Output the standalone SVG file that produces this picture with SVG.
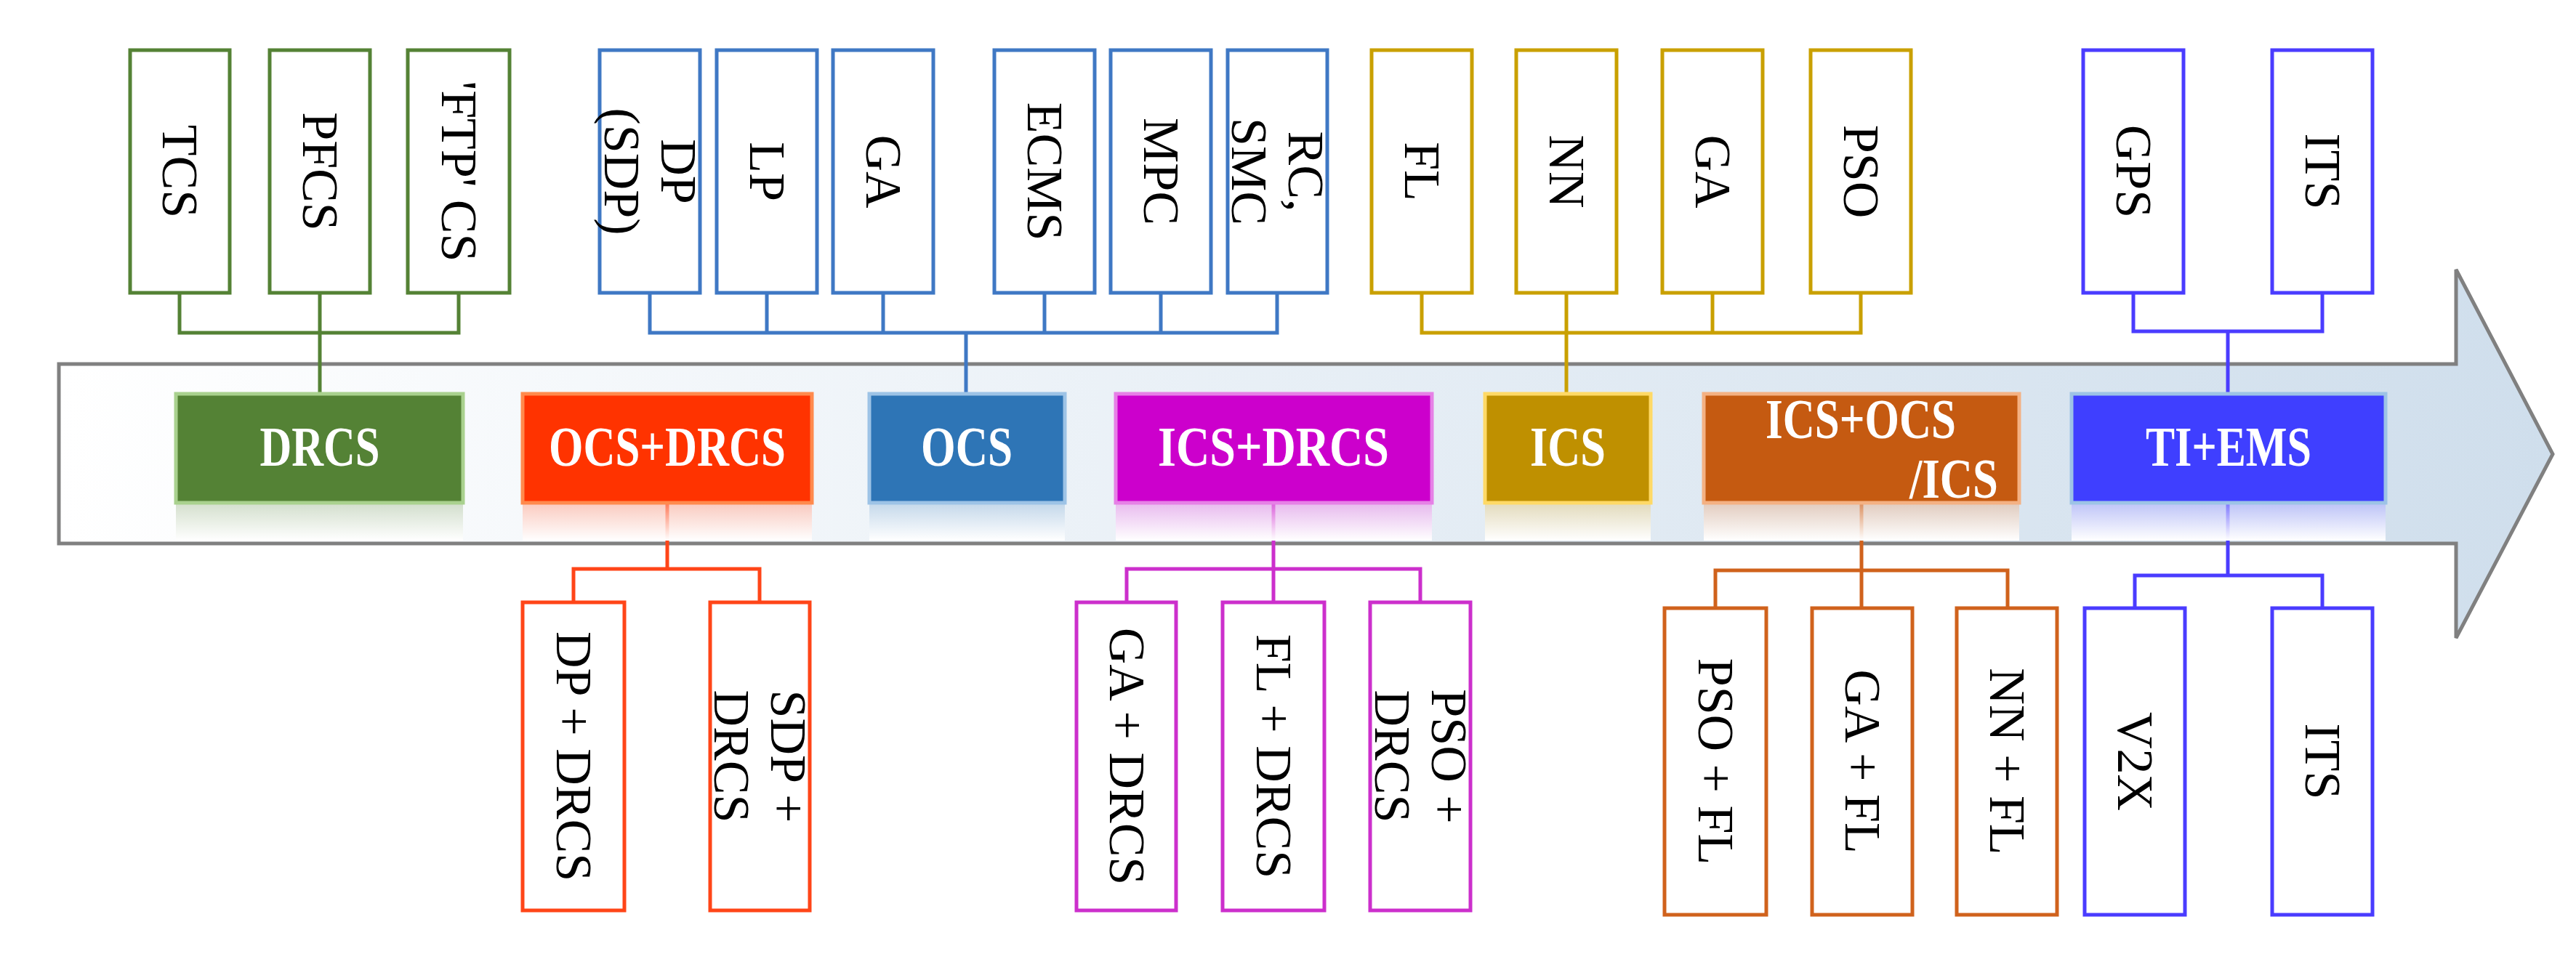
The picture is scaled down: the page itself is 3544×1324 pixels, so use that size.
<svg xmlns="http://www.w3.org/2000/svg" width="3544" height="1324" viewBox="0 0 3544 1324">
<style>
.b{fill:#fff;stroke-width:5}
.t{font-family:"Liberation Serif",serif;font-size:70px;fill:#000;text-anchor:middle;dominant-baseline:central}
.l{font-family:"Liberation Serif",serif;font-weight:bold;font-size:78px;fill:#fff;text-anchor:middle;dominant-baseline:central}
.c{fill:none;stroke-width:5}
.g{stroke:#548235}.bl{stroke:#3f78c4}.y{stroke:#c9a000}.p{stroke:#4a3cff}.r{stroke:#ff4518}.m{stroke:#cc2fcc}.o{stroke:#d0621c}
</style>
<defs>
<linearGradient id="ag" x1="0" x2="1" y1="0" y2="0"><stop offset="0" stop-color="#ffffff"/><stop offset="1" stop-color="#cfdeec"/></linearGradient>
<linearGradient id="rf" x1="0" x2="0" y1="0" y2="1"><stop offset="0" stop-color="#fff" stop-opacity="0.3"/><stop offset="1" stop-color="#fff" stop-opacity="1"/></linearGradient>
</defs>
<path d="M81,501 H3379 V371 L3512,625 L3379,878 V748 H81 Z" fill="url(#ag)" stroke="#808080" stroke-width="5"/>
<g id="connectors">
<path class="c g" d="M247,403V458H631V403M440,403V542"/>
<path class="c bl" d="M894,403V458H1757V403M1055,403V458M1215,403V458M1437,403V458M1597,403V458M1329,458V542"/>
<path class="c y" d="M1956,403V458H2560V403M2155,403V542M2356,403V458"/>
<path class="c p" d="M2935,403V456H3195V403M3065,456V542"/>
<path class="c r" d="M789,829V783H1045V829M918,692V783"/>
<path class="c m" d="M1550,829V783H1954V829M1752,692V829"/>
<path class="c o" d="M2360,837V785H2762V837M2561,692V837"/>
<path class="c p" d="M2937,837V792H3195V837M3065,692V792"/>
</g>
<g id="DRCS"><rect x="242" y="692" width="395" height="52" fill="#548235" opacity="0.35"/><rect x="242" y="692" width="395" height="52" fill="url(#rf)"/><rect x="242" y="542" width="395" height="150" fill="#548235" stroke="#a9d18e" stroke-width="5"/><text class="l" x="440" y="614" textLength="165" lengthAdjust="spacingAndGlyphs">DRCS</text></g>
<g id="OCSDRCS"><rect x="719" y="692" width="398" height="52" fill="#ff3300" opacity="0.35"/><rect x="719" y="692" width="398" height="52" fill="url(#rf)"/><rect x="719" y="542" width="398" height="150" fill="#ff3300" stroke="#ff8a4d" stroke-width="5"/><text class="l" x="918" y="614" textLength="326" lengthAdjust="spacingAndGlyphs">OCS+DRCS</text></g>
<g id="OCS"><rect x="1196" y="692" width="269" height="52" fill="#2e75b6" opacity="0.35"/><rect x="1196" y="692" width="269" height="52" fill="url(#rf)"/><rect x="1196" y="542" width="269" height="150" fill="#2e75b6" stroke="#9dc3e6" stroke-width="5"/><text class="l" x="1330" y="614" textLength="126" lengthAdjust="spacingAndGlyphs">OCS</text></g>
<g id="ICSDRCS"><rect x="1535" y="692" width="435" height="52" fill="#cc00cc" opacity="0.35"/><rect x="1535" y="692" width="435" height="52" fill="url(#rf)"/><rect x="1535" y="542" width="435" height="150" fill="#cc00cc" stroke="#e680e6" stroke-width="5"/><text class="l" x="1752" y="614" textLength="318" lengthAdjust="spacingAndGlyphs">ICS+DRCS</text></g>
<g id="ICS"><rect x="2043" y="692" width="228" height="52" fill="#bf9000" opacity="0.35"/><rect x="2043" y="692" width="228" height="52" fill="url(#rf)"/><rect x="2043" y="542" width="228" height="150" fill="#bf9000" stroke="#ffd966" stroke-width="5"/><text class="l" x="2157" y="614" textLength="104" lengthAdjust="spacingAndGlyphs">ICS</text></g>
<g id="ICSOCS"><rect x="2344" y="692" width="434" height="52" fill="#c55a11" opacity="0.35"/><rect x="2344" y="692" width="434" height="52" fill="url(#rf)"/><rect x="2344" y="542" width="434" height="150" fill="#c55a11" stroke="#f4b183" stroke-width="5"/><text class="l" x="2560" y="576" textLength="262" lengthAdjust="spacingAndGlyphs">ICS+OCS</text><text class="l" x="2688" y="658" textLength="122" lengthAdjust="spacingAndGlyphs">/ICS</text></g>
<g id="TIEMS"><rect x="2850" y="692" width="432" height="52" fill="#3f3fff" opacity="0.35"/><rect x="2850" y="692" width="432" height="52" fill="url(#rf)"/><rect x="2850" y="542" width="432" height="150" fill="#3f3fff" stroke="#9dc3e6" stroke-width="5"/><text class="l" x="3066" y="614" textLength="228" lengthAdjust="spacingAndGlyphs">TI+EMS</text></g>

<g id="TCS"><rect class="b g" x="179" y="69" width="137" height="334"/><text class="t" transform="rotate(90 247 236)" x="247" y="236">TCS</text></g>
<g id="PFCS"><rect class="b g" x="371" y="69" width="138" height="334"/><text class="t" transform="rotate(90 440 236)" x="440" y="236">PFCS</text></g>
<g id="FTPCS"><rect class="b g" x="561" y="69" width="140" height="334"/><text class="t" transform="rotate(90 631 236)" x="631" y="236">'FTP' CS</text></g>
<g id="DP"><rect class="b bl" x="825" y="69" width="138" height="334"/><text class="t" transform="rotate(90 894 236)" x="894" y="197">DP</text><text class="t" transform="rotate(90 894 236)" x="894" y="275">(SDP)</text></g>
<g id="LP"><rect class="b bl" x="986" y="69" width="138" height="334"/><text class="t" transform="rotate(90 1055 236)" x="1055" y="236">LP</text></g>
<g id="GA1"><rect class="b bl" x="1146" y="69" width="138" height="334"/><text class="t" transform="rotate(90 1215 236)" x="1215" y="236">GA</text></g>
<g id="ECMS"><rect class="b bl" x="1368" y="69" width="138" height="334"/><text class="t" transform="rotate(90 1437 236)" x="1437" y="236">ECMS</text></g>
<g id="MPC"><rect class="b bl" x="1528" y="69" width="138" height="334"/><text class="t" transform="rotate(90 1597 236)" x="1597" y="236">MPC</text></g>
<g id="RCSMC"><rect class="b bl" x="1689" y="69" width="137" height="334"/><text class="t" transform="rotate(90 1757 236)" x="1757" y="197">RC,</text><text class="t" transform="rotate(90 1757 236)" x="1757" y="275">SMC</text></g>
<g id="FL"><rect class="b y" x="1887" y="69" width="138" height="334"/><text class="t" transform="rotate(90 1956 236)" x="1956" y="236">FL</text></g>
<g id="NN"><rect class="b y" x="2086" y="69" width="138" height="334"/><text class="t" transform="rotate(90 2155 236)" x="2155" y="236">NN</text></g>
<g id="GA2"><rect class="b y" x="2287" y="69" width="138" height="334"/><text class="t" transform="rotate(90 2356 236)" x="2356" y="236">GA</text></g>
<g id="PSO"><rect class="b y" x="2491" y="69" width="138" height="334"/><text class="t" transform="rotate(90 2560 236)" x="2560" y="236">PSO</text></g>
<g id="GPS"><rect class="b p" x="2866" y="69" width="138" height="334"/><text class="t" transform="rotate(90 2935 236)" x="2935" y="236">GPS</text></g>
<g id="ITS1"><rect class="b p" x="3126" y="69" width="138" height="334"/><text class="t" transform="rotate(90 3195 236)" x="3195" y="236">ITS</text></g>

<g id="DPDRCS"><rect class="b r" x="719" y="829" width="140" height="424"/><text class="t" transform="rotate(90 789 1041)" x="789" y="1041">DP + DRCS</text></g>
<g id="SDPDRCS"><rect class="b r" x="977" y="829" width="137" height="424"/><text class="t" transform="rotate(90 1045 1041)" x="1045" y="1002">SDP +</text><text class="t" transform="rotate(90 1045 1041)" x="1045" y="1080">DRCS</text></g>
<g id="GADRCS"><rect class="b m" x="1481" y="829" width="137" height="424"/><text class="t" transform="rotate(90 1550 1041)" x="1550" y="1041">GA + DRCS</text></g>
<g id="FLDRCS"><rect class="b m" x="1682" y="829" width="140" height="424"/><text class="t" transform="rotate(90 1752 1041)" x="1752" y="1041">FL + DRCS</text></g>
<g id="PSODRCS"><rect class="b m" x="1885" y="829" width="138" height="424"/><text class="t" transform="rotate(90 1954 1041)" x="1954" y="1002">PSO +</text><text class="t" transform="rotate(90 1954 1041)" x="1954" y="1080">DRCS</text></g>
<g id="PSOFL"><rect class="b o" x="2290" y="837" width="140" height="422"/><text class="t" transform="rotate(90 2360 1048)" x="2360" y="1048">PSO + FL</text></g>
<g id="GAFL"><rect class="b o" x="2493" y="837" width="138" height="422"/><text class="t" transform="rotate(90 2562 1048)" x="2562" y="1048">GA + FL</text></g>
<g id="NNFL"><rect class="b o" x="2692" y="837" width="138" height="422"/><text class="t" transform="rotate(90 2761 1048)" x="2761" y="1048">NN + FL</text></g>
<g id="V2X"><rect class="b p" x="2868" y="837" width="138" height="422"/><text class="t" transform="rotate(90 2937 1048)" x="2937" y="1048">V2X</text></g>
<g id="ITS2"><rect class="b p" x="3126" y="837" width="138" height="422"/><text class="t" transform="rotate(90 3195 1048)" x="3195" y="1048">ITS</text></g>
</svg>
